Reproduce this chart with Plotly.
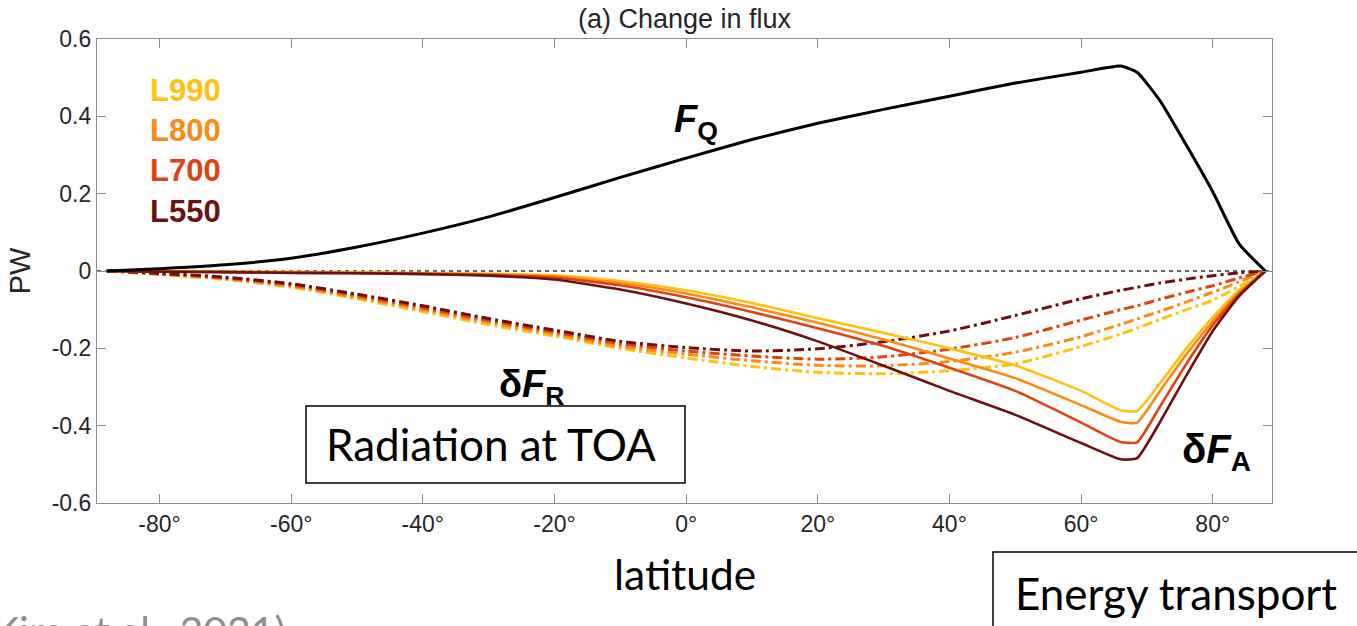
import plotly.graph_objects as go

# Latitude grid (degrees) shared by all curves
lat = [-88, -80, -70, -60, -50, -40, -30, -20, -10, 0, 10, 20, 30, 40, 50, 60,
       66, 68.5, 72, 76, 80, 84, 88]

# Total flux F_Q (PW)
fq = [0, 0.006, 0.016, 0.033, 0.062, 0.098, 0.14, 0.19, 0.242, 0.292, 0.34,
      0.382, 0.418, 0.452, 0.486, 0.514, 0.53, 0.514, 0.44, 0.325, 0.205, 0.07, 0]

# Atmospheric transport change dF_A (PW), one list per experiment
fa_990 = [0, -0.001, -0.002, -0.003, -0.004, -0.005, -0.007, -0.011, -0.026, -0.05,
          -0.083, -0.122, -0.16, -0.2, -0.244, -0.31, -0.36, -0.362, -0.29, -0.20,
          -0.12, -0.05, 0]
fa_800 = [0, -0.001, -0.002, -0.003, -0.005, -0.006, -0.009, -0.014, -0.031, -0.058,
          -0.094, -0.134, -0.177, -0.226, -0.277, -0.347, -0.39, -0.392, -0.31, -0.215,
          -0.13, -0.055, 0]
fa_700 = [0, -0.001, -0.003, -0.004, -0.005, -0.007, -0.010, -0.017, -0.037, -0.068,
          -0.106, -0.148, -0.194, -0.25, -0.31, -0.392, -0.442, -0.443, -0.35, -0.24,
          -0.14, -0.06, 0]
fa_550 = [0, -0.002, -0.003, -0.005, -0.006, -0.008, -0.012, -0.022, -0.048, -0.084,
          -0.128, -0.182, -0.245, -0.31, -0.372, -0.445, -0.487, -0.484, -0.39, -0.27,
          -0.155, -0.065, 0]

# TOA radiation change dF_R (PW)
fr_990 = [0, -0.009, -0.022, -0.042, -0.072, -0.105, -0.139, -0.168, -0.2, -0.225,
          -0.247, -0.262, -0.266, -0.258, -0.24, -0.195, -0.163, -0.148, -0.125, -0.1,
          -0.075, -0.04, 0]
fr_800 = [0, -0.008, -0.02, -0.039, -0.068, -0.1, -0.133, -0.163, -0.195, -0.215,
          -0.232, -0.244, -0.245, -0.234, -0.21, -0.17, -0.138, -0.124, -0.104, -0.08,
          -0.055, -0.028, 0]
fr_700 = [0, -0.007, -0.018, -0.036, -0.064, -0.095, -0.128, -0.158, -0.188, -0.207,
          -0.22, -0.228, -0.222, -0.202, -0.172, -0.127, -0.1, -0.09, -0.073, -0.055,
          -0.038, -0.018, 0]
fr_550 = [0, -0.006, -0.016, -0.033, -0.06, -0.09, -0.123, -0.153, -0.182, -0.198,
          -0.207, -0.201, -0.183, -0.155, -0.115, -0.072, -0.05, -0.042, -0.031, -0.021,
          -0.012, -0.005, 0]

experiments = ["L990", "L800", "L700", "L550"]
colors = ["#FFC20E", "#FB8A17", "#DF4410", "#6F1010"]
fa_series = [fa_990, fa_800, fa_700, fa_550]
fr_series = [fr_990, fr_800, fr_700, fr_550]

x_ticks = [-80, -60, -40, -20, 0, 20, 40, 60, 80]
x_ticklabels = [f"{v}°" for v in x_ticks]
y_ticks = [-0.6, -0.4, -0.2, 0, 0.2, 0.4, 0.6]
y_ticklabels = ["-0.6", "-0.4", "-0.2", "0", "0.2", "0.4", "0.6"]

fig = go.Figure()

for name, col, ys in zip(experiments, colors, fr_series):
    fig.add_trace(go.Scatter(x=lat, y=ys, mode="lines", name=name + " dF_R",
                             line=dict(color=col, width=3, dash="10px,4px,3px,4px",
                                       shape="spline", smoothing=0.7)))
for name, col, ys in zip(experiments, colors, fa_series):
    fig.add_trace(go.Scatter(x=lat, y=ys, mode="lines", name=name + " dF_A",
                             line=dict(color=col, width=2.6, shape="spline", smoothing=0.5)))
fig.add_trace(go.Scatter(x=lat, y=fq, mode="lines", name="F_Q",
                         line=dict(color="black", width=3, shape="spline", smoothing=0.5)))

axis_font = dict(family="Liberation Sans, Arial", size=23, color="#262626")
axis_common = dict(showline=True, linecolor="#8c8c8c", linewidth=1.2, mirror="ticks",
                   ticks="inside", ticklen=9, tickcolor="#8c8c8c", tickwidth=1.2,
                   showgrid=False, zeroline=False, tickfont=axis_font)

fig.update_xaxes(range=[-89.5, 89.0], tickvals=x_ticks, ticktext=x_ticklabels, **axis_common)
fig.update_yaxes(range=[-0.6, 0.6], tickvals=y_ticks, ticktext=y_ticklabels,
                 title=dict(text="PW", font=dict(family="Liberation Sans, Arial", size=29,
                                                  color="#262626"), standoff=12),
                 **axis_common)

ann = []
# experiment labels
for i, (name, col) in enumerate(zip(experiments, colors)):
    ann.append(dict(xref="paper", yref="paper", x=0.043, y=0.890 - i * 0.087,
                    xanchor="left", yanchor="middle", showarrow=False,
                    text=f"<b>{name}</b>",
                    font=dict(family="Liberation Sans, Arial", size=31, color=col)))

curve_font = dict(family="Liberation Sans, Arial", size=38, color="black")
ann.append(dict(x=1.5, y=0.385, xref="x", yref="y", showarrow=False,
                text="<b><i>F</i><sub>Q</sub></b>", font=curve_font))
ann.append(dict(x=-23.5, y=-0.30, xref="x", yref="y", showarrow=False,
                text="<b>δ<i>F</i><sub>R</sub></b>", font=curve_font))
ann.append(dict(x=80.6, y=-0.468, xref="x", yref="y", showarrow=False,
                text="<b>δ<i>F</i><sub>A</sub></b>", font=dict(curve_font, size=40)))

# panel title
ann.append(dict(xref="paper", yref="paper", x=0.5, y=1.0, yshift=20,
                xanchor="center", yanchor="middle", showarrow=False,
                text="(a) Change in flux",
                font=dict(family="Liberation Sans, Arial", size=27, color="#262626")))

slide_font = dict(family="Lato", size=44, color="black")
ann.append(dict(xref="paper", yref="paper", x=0.5, y=-0.151, xanchor="center",
                yanchor="middle", showarrow=False, text="latitude",
                font=dict(slide_font, size=42.5)))
ann.append(dict(xref="paper", yref="paper", x=(491 - 97) / 1175, y=(503 - 444) / 464,
                xanchor="center", yanchor="middle", showarrow=False,
                text="Radiation at TOA", font=slide_font))
ann.append(dict(xref="paper", yref="paper", x=(1176 - 97) / 1175, y=(503 - 593) / 464,
                xanchor="center", yanchor="middle", showarrow=False,
                text="Energy transport", font=slide_font))
ann.append(dict(xref="paper", yref="paper", x=(287 - 97) / 1175, y=(503 - 630) / 464,
                xanchor="right", yanchor="middle", showarrow=False,
                text="(Kim et al., 2021)",
                font=dict(family="Lato", size=41, color="#8f8f8f")))

shapes = [
    # zero reference line
    dict(type="line", xref="paper", yref="y", x0=0, x1=1, y0=0, y1=0, layer="below",
         line=dict(color="#333333", width=1.3, dash="4px,4px")),
    dict(type="rect", xref="paper", yref="paper", layer="above",
         x0=(306 - 97) / 1175, x1=(685 - 97) / 1175,
         y0=(503 - 483) / 464, y1=(503 - 406) / 464,
         line=dict(color="black", width=1.5), fillcolor="white"),
    dict(type="rect", xref="paper", yref="paper", layer="above",
         x0=(993 - 97) / 1175, x1=1.4,
         y0=-0.5, y1=(503 - 552) / 464,
         line=dict(color="black", width=1.5), fillcolor="white"),
]

fig.update_layout(width=1357, height=626, autosize=False,
                  margin=dict(l=97, r=85, t=39, b=123),
                  paper_bgcolor="white", plot_bgcolor="white",
                  showlegend=False, annotations=ann, shapes=shapes)

fig.write_html("out.html", config={"displayModeBar": False})
